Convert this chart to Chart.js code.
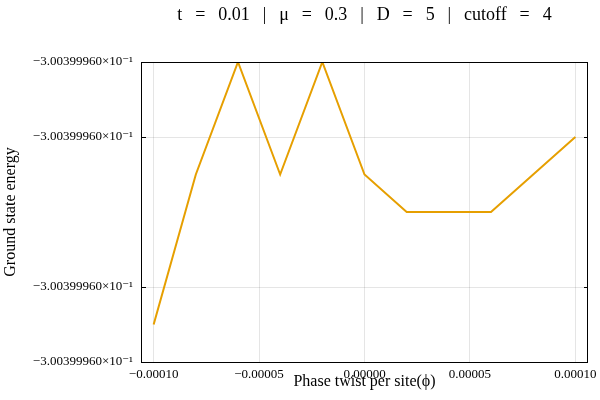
<!DOCTYPE html>
<html>
<head>
<meta charset="utf-8">
<script src="https://cdn.jsdelivr.net/npm/chart.js@4"></script>
<style>
  html, body { margin: 0; padding: 0; background: #fff; }
  #wrap { width: 600px; height: 400px; }
</style>
</head>
<body>
<div id="wrap"><canvas id="chart" width="600" height="400"></canvas></div>
<script>
// Phase twist per site (x) and ground state energy (in steps of one
// double-precision ulp around -0.300399960, top tick = 0)
const phaseTwist = [-0.0001, -0.00008, -0.00006, -0.00004, -0.00002, 0, 0.00002, 0.00004, 0.00006, 0.00008, 0.0001];
const energySteps = [-7, -3, 0, -3, 0, -3, -4, -4, -4, -3, -2];

const xTickValues = [-0.0001, -0.00005, 0, 0.00005, 0.0001];
const xTickLabels = ['\u22120.00010', '\u22120.00005', '0.00000', '0.00005', '0.00010'];
const yTickValues = [-8, -6, -2, 0];
const yTickLabels = ['\u22123.00399960\u00d710\u207b\u00b9', '\u22123.00399960\u00d710\u207b\u00b9',
                     '\u22123.00399960\u00d710\u207b\u00b9', '\u22123.00399960\u00d710\u207b\u00b9'];

const titleText = 't = 0.01 | \u03bc = 0.3 | D = 5 | cutoff = 4';
const xTitle = 'Phase twist per site(\u03d5)';
const yTitle = 'Ground state energy';

const serif = '"Liberation Serif", "DejaVu Serif", serif';

// title over the plot area, frame, inward y ticks and axis titles
const framePlugin = {
  id: 'frame',
  afterDraw(chart) {
    const { ctx, chartArea: a, scales } = chart;
    ctx.save();
    ctx.strokeStyle = '#000';
    ctx.lineWidth = 1;
    ctx.strokeRect(a.left + 0.5, a.top + 0.5, a.right - a.left - 1, a.bottom - a.top);
    ctx.beginPath();
    yTickValues.forEach(v => {
      const y = Math.round(scales.y.getPixelForValue(v)) + 0.5;
      ctx.moveTo(a.left, y); ctx.lineTo(a.left + 5, y);
      ctx.moveTo(a.right - 4, y); ctx.lineTo(a.right, y);
    });
    ctx.stroke();

    ctx.fillStyle = '#000';
    ctx.textAlign = 'center';
    ctx.textBaseline = 'middle';
    const midX = (a.left + a.right) / 2;

    ctx.font = '18px ' + serif;
    ctx.wordSpacing = '8.4px';
    ctx.fillText(titleText, midX, 15);
    ctx.wordSpacing = '0px';

    ctx.font = '16px ' + serif;
    ctx.fillText(xTitle, midX, 382);
    ctx.translate(11, (a.top + a.bottom) / 2);
    ctx.rotate(-Math.PI / 2);
    ctx.fillText(yTitle, 0, 0);
    ctx.restore();
  }
};

new Chart(document.getElementById('chart'), {
  type: 'line',
  data: {
    datasets: [{
      data: phaseTwist.map((x, i) => ({ x: x, y: energySteps[i] })),
      borderColor: '#e69f00',
      borderWidth: 2,
      pointRadius: 0,
      tension: 0,
      fill: false
    }]
  },
  options: {
    responsive: false,
    animation: false,
    layout: { padding: { left: 0, right: 12, top: 62, bottom: 0 } },
    plugins: {
      legend: { display: false },
      tooltip: { enabled: false },
      title: { display: false }
    },
    scales: {
      x: {
        type: 'linear',
        min: -0.000106,
        max: 0.000106,
        afterBuildTicks: s => { s.ticks = xTickValues.map(v => ({ value: v })); },
        afterFit: s => { s.height = 38; s.paddingLeft = 0; s.paddingRight = 0; },
        ticks: {
          color: '#000',
          padding: 5,
          maxRotation: 0,
          autoSkip: false,
          font: { family: serif, size: 13 },
          callback: (v, i) => xTickLabels[i]
        },
        grid: { color: 'rgba(0,0,0,0.1)', drawTicks: false },
        border: { display: false }
      },
      y: {
        type: 'linear',
        min: -8,
        max: 0,
        afterBuildTicks: s => { s.ticks = yTickValues.map(v => ({ value: v })); },
        afterFit: s => { s.width = 141; s.paddingTop = 0; s.paddingBottom = 0; },
        ticks: {
          color: '#000',
          padding: 8,
          autoSkip: false,
          font: { family: serif, size: 13 },
          callback: (v, i) => yTickLabels[i]
        },
        grid: { color: 'rgba(0,0,0,0.1)', drawTicks: false },
        border: { display: false }
      }
    }
  },
  plugins: [framePlugin]
});
</script>
</body>
</html>
